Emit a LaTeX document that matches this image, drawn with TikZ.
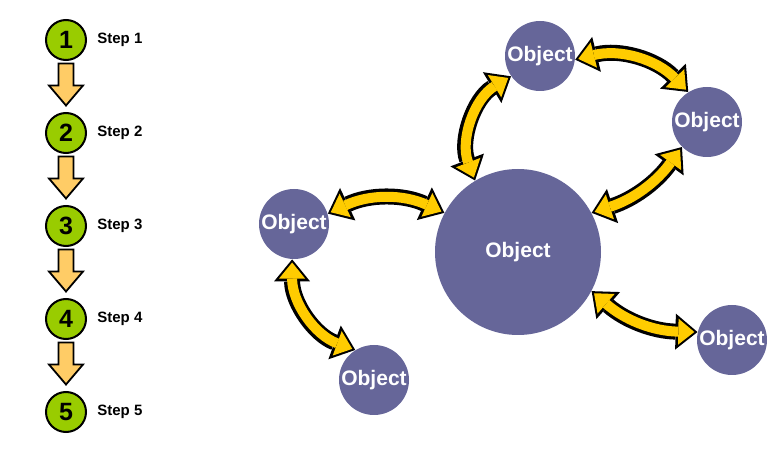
\documentclass[tikz,border=0pt]{standalone}
\usepackage{fontspec}
\setmainfont{Liberation Sans}
\usetikzlibrary{positioning,calc,arrows.meta}

\definecolor{stepgreen}{RGB}{153,204,0}
\definecolor{steporange}{RGB}{255,204,102}
\definecolor{objpurple}{RGB}{102,102,153}
\definecolor{linkyellow}{RGB}{255,204,0}

\tikzset{
    stepdot/.style={circle, draw=black, line width=1pt, fill=stepgreen, minimum size=20pt, inner sep=0pt, font=\bfseries\fontsize{12.5}{12.5}\selectfont},
    steplabel/.style={inner sep=0pt, anchor=west, font=\bfseries\fontsize{7.5}{8}\selectfont},
    steparrow/.style={draw=black, line width=0.9pt, fill=steporange, line join=miter},
    objsmall/.style={circle, fill=objpurple, text=white, minimum size=35pt, inner sep=0pt, font=\bfseries\fontsize{10.5}{10.5}\selectfont},
    objbig/.style={objsmall, minimum size=83pt},
    linkout/.style={draw=black, line width=8pt, {Triangle[length=11pt,width=18pt,line width=0pt]}-{Triangle[length=11pt,width=18pt,line width=0pt]}},
    linkin/.style={draw=linkyellow, line width=5pt, shorten >=1.6pt, shorten <=1.6pt, {Triangle[length=8pt,width=13pt,line width=0pt]}-{Triangle[length=8pt,width=13pt,line width=0pt]}}
}

\begin{document}
\begin{tikzpicture}[x=0.5pt, y=0.5pt]
    \useasboundingbox (0,0) rectangle (784,-449);

    \node[stepdot] (s1) at (66, -40) {1};
    \node[stepdot] (s2) at (66,-133) {2};
    \node[stepdot] (s3) at (66,-226) {3};
    \node[stepdot] (s4) at (66,-319) {4};
    \node[stepdot] (s5) at (66,-412) {5};

    \node[steplabel, right=5pt of s1] (t1) {Step 1};
    \node[steplabel, right=5pt of s2] (t2) {Step 2};
    \node[steplabel, right=5pt of s3] (t3) {Step 3};
    \node[steplabel, right=5pt of s4] (t4) {Step 4};
    \node[steplabel, right=5pt of s5] (t5) {Step 5};

    \draw[steparrow] ($(s1)!0.5!(s2)$) ++(-7.5,23) -- ++(15,0) -- ++(0,-22) -- ++(9.5,0) -- ++(-17,-20) -- ++(-17,20) -- ++(9.5,0) -- cycle;
    \draw[steparrow] ($(s2)!0.5!(s3)$) ++(-7.5,23) -- ++(15,0) -- ++(0,-22) -- ++(9.5,0) -- ++(-17,-20) -- ++(-17,20) -- ++(9.5,0) -- cycle;
    \draw[steparrow] ($(s3)!0.5!(s4)$) ++(-7.5,23) -- ++(15,0) -- ++(0,-22) -- ++(9.5,0) -- ++(-17,-20) -- ++(-17,20) -- ++(9.5,0) -- cycle;
    \draw[steparrow] ($(s4)!0.5!(s5)$) ++(-7.5,23) -- ++(15,0) -- ++(0,-22) -- ++(9.5,0) -- ++(-17,-20) -- ++(-17,20) -- ++(9.5,0) -- cycle;

    \node[objbig]   (obig)    at (518,-252) {Object};
    \node[objsmall] (otop)    at (540, -56) {Object};
    \node[objsmall] (oright)  at (707,-122) {Object};
    \node[objsmall] (oleft)   at (294,-224) {Object};
    \node[objsmall] (obottom) at (374,-380) {Object};
    \node[objsmall] (ocorner) at (732,-340) {Object};

    \draw[linkout] (oleft.17)  to[bend left=25]  (obig.152);
    \draw[linkin]  (oleft.17)  to[bend left=25]  (obig.152);
    \draw[linkout] (oleft.267) to[bend right=35] (obottom.122);
    \draw[linkin]  (oleft.267) to[bend right=35] (obottom.122);
    \draw[linkout] (otop.215)  to[bend right=40] (obig.121);
    \draw[linkin]  (otop.215)  to[bend right=40] (obig.121);
    \draw[linkout] (otop.-6)   to[bend left=30]  (oright.122);
    \draw[linkin]  (otop.-6)   to[bend left=30]  (oright.122);
    \draw[linkout] (oright.225) to[bend left=18] (obig.28);
    \draw[linkin]  (oright.225) to[bend left=18] (obig.28);
    \draw[linkout] (obig.-28)  to[bend right=20] (ocorner.167);
    \draw[linkin]  (obig.-28)  to[bend right=20] (ocorner.167);
\end{tikzpicture}
\end{document}
